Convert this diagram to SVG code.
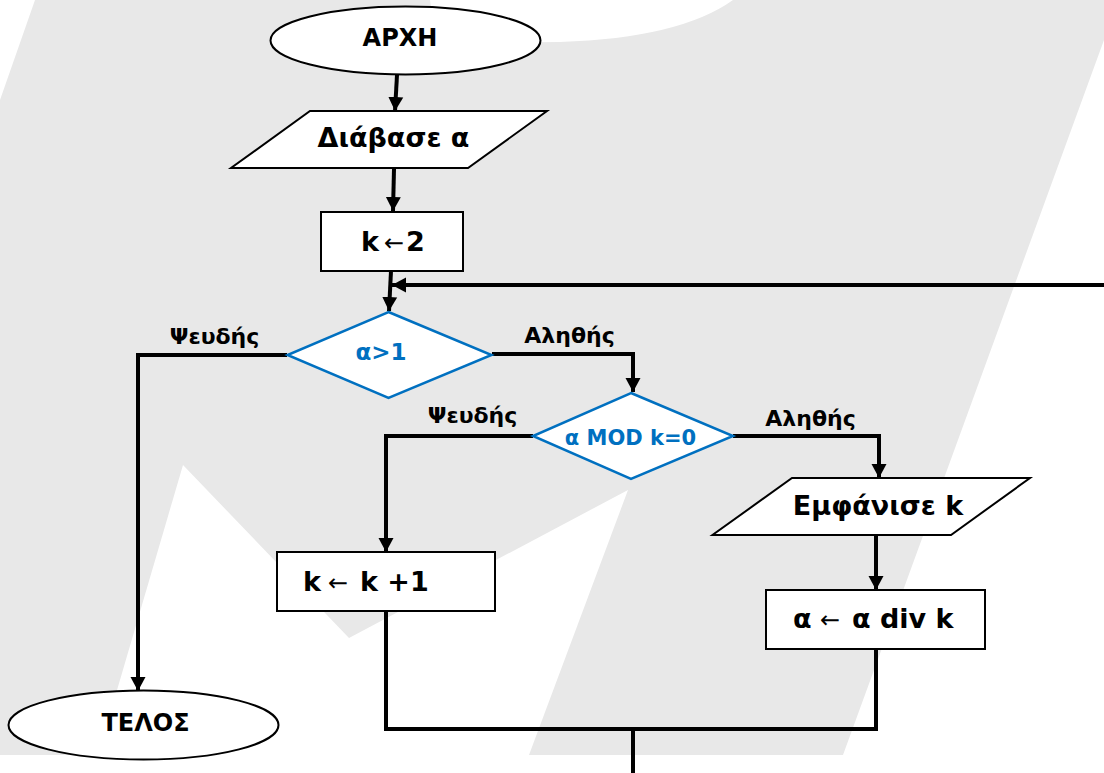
<svg xmlns="http://www.w3.org/2000/svg" width="1104" height="773" viewBox="0 0 1104 773">
<defs>
<marker id="ah" markerUnits="userSpaceOnUse" markerWidth="16" markerHeight="16" viewBox="0 0 16 16" refX="14" refY="8" orient="auto">
<path d="M0,0.5 L14,8 L0,15.5 Z" fill="#000"/>
</marker>
<style>
.wm{fill:#e8e8e8;stroke:none}
.shape{fill:#fff;stroke:#000;stroke-width:2}
.dec{fill:#fff;stroke:#0070C0;stroke-width:2.5}
.conn{fill:none;stroke:#000;stroke-width:4}
.t{font-family:"DejaVu Sans","Noto Sans",sans-serif;font-weight:bold;fill:#000}
.term{font-size:24px}
.box{font-size:27px}
.dt{font-size:21px;fill:#0070C0}
.dt1{font-size:23px}
.lbl{font-size:22px}
.arr{font-weight:normal;font-size:24px}
</style>
</defs>
<rect width="1104" height="773" fill="#fff"/>
<path class="wm" d="M35,0 L430,0 Q432,43 470,43 L560,42 Q680,38 733,0 L1104,0 L1104,40 L843,755 L529,755 L628,490 L349,638 L183,465 L98,755 L0,755 L0,100 Z"/>

<g id="connectors">
<line class="conn" x1="397" y1="75" x2="395" y2="111" marker-end="url(#ah)"/>
<line class="conn" x1="394" y1="169" x2="393" y2="211" marker-end="url(#ah)"/>
<line class="conn" x1="391" y1="271" x2="389" y2="311" marker-end="url(#ah)"/>
<line class="conn" x1="1104" y1="285" x2="392" y2="285" marker-end="url(#ah)"/>
<polyline class="conn" points="287,355 138,355 138,691" marker-end="url(#ah)"/>
<polyline class="conn" points="492,354 633,354 633,392" marker-end="url(#ah)"/>
<polyline class="conn" points="533,436 386,436 386,552" marker-end="url(#ah)"/>
<polyline class="conn" points="733,436 879,436 879,478" marker-end="url(#ah)"/>
<line class="conn" x1="876" y1="535" x2="876" y2="590" marker-end="url(#ah)"/>
<polyline class="conn" points="386,611 386,729 876,729 876,649"/>
<line class="conn" x1="633" y1="729" x2="633" y2="773"/>
<text class="t lbl" x="214.5" y="344" text-anchor="middle">Ψευδής</text>
<text class="t lbl" x="569.5" y="343" text-anchor="middle">Αληθής</text>
<text class="t lbl" x="472.5" y="423" text-anchor="middle">Ψευδής</text>
<text class="t lbl" x="810.5" y="426" text-anchor="middle">Αληθής</text>
</g>

<g id="start">
<ellipse class="shape" cx="405.5" cy="40.5" rx="135" ry="34"/>
<text class="t term" x="400" y="46" text-anchor="middle">ΑΡΧΗ</text>
</g>
<g id="read">
<polygon class="shape" points="310,111 547,111 468,168 231,168"/>
<text class="t box" x="393.5" y="147" text-anchor="middle">Διάβασε α</text>
</g>
<g id="init">
<rect class="shape" x="321" y="212" width="142" height="59"/>
<text class="t box" y="250.7"><tspan x="361">k</tspan><tspan class="arr" x="384">←</tspan><tspan x="406">2</tspan></text>
</g>
<g id="cond1">
<polygon class="dec" points="388.5,312 491.5,355 388.5,398 287.5,355"/>
<text class="t dt dt1" x="381" y="360" text-anchor="middle">α&gt;1</text>
</g>
<g id="cond2">
<polygon class="dec" points="631,393 733,436 631,479 533,436"/>
<text class="t dt" x="630.5" y="445" text-anchor="middle">α MOD k=0</text>
</g>
<g id="incr">
<rect class="shape" x="277" y="552" width="218" height="59"/>
<text class="t box" y="590.7"><tspan x="303">k</tspan><tspan class="arr" x="328">←</tspan><tspan x="360">k +1</tspan></text>
</g>
<g id="print">
<polygon class="shape" points="792,478 1030,478 951,535 712.5,535"/>
<text class="t box" x="878" y="515" text-anchor="middle">Εμφάνισε k</text>
</g>
<g id="divide">
<rect class="shape" x="766" y="590" width="219" height="59"/>
<text class="t box" y="628"><tspan x="793">α</tspan><tspan class="arr" x="820">←</tspan><tspan x="852">α div k</tspan></text>
</g>
<g id="end">
<ellipse class="shape" cx="143.5" cy="725" rx="135" ry="34.5"/>
<text class="t term" x="145.5" y="730.7" text-anchor="middle">ΤΕΛΟΣ</text>
</g>
</svg>
